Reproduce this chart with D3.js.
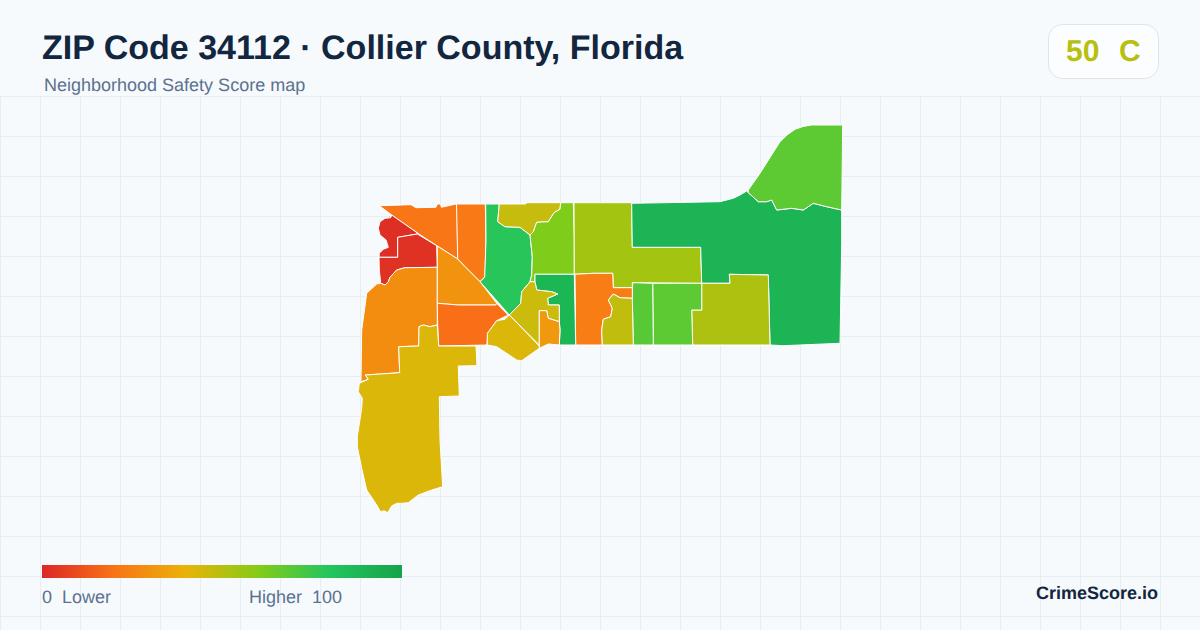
<!DOCTYPE html>
<html>
<head>
<meta charset="utf-8">
<style>
  html, body { margin: 0; padding: 0; background: #f7fafc; }
  text { font-family: "Liberation Sans", Arial, sans-serif; text-rendering: geometricPrecision; }
</style>
<script src="https://cdn.jsdelivr.net/npm/d3@7"></script>
</head>
<body>
<div id="chart"></div>
<script>
var titleText = "ZIP Code 34112 · Collier County, Florida";
var subtitleText = "Neighborhood Safety Score map";
var badgeScore = "50";
var badgeGrade = "C";
var badgeValue = 50;
var legendLabels = ["0  Lower", "Higher  100"];
var brandText = "CrimeScore.io";

// score colour ramp
var rampScores = [0, 20, 40, 60, 80, 100];
var rampColors = ["#dc2626", "#f97316", "#eab308", "#84cc16", "#22c55e", "#16a34a"];

// one score per neighborhood, same order as regionRings
var regionScores = [
    21, 22, 95, 2, 3, 28, 30, 19, 43, 79, 47, 61, 54,
    90, 68, 52, 68, 69, 23, 48, 89, 46, 32, 43
];

// neighborhood outlines in map units (no real coordinates available)
var regionRings = [
    [[29.3,85.7],[61,84.7],[66,87.7],[86,87.3],[87.3,84],[90.7,84],[91.3,87.3],[106,84],[107,84],[107.7,139],[86.7,125.7],[67,112.7],[41.7,95]],
    [[106.5,84],[135.3,84],[136,120],[135,156.7],[130,161.7],[115,146.7],[107.7,139]],
    [[35,98.3],[40,95.7],[40.7,97.7]],
    [[30,101.7],[28.3,108.3],[30,115],[36,120],[38.3,127.3],[33.3,129.3],[29.3,133.3],[29,137.3],[47.7,137.3],[47.7,117.3],[67.3,114],[67,112.7],[41.7,95],[40.7,97.7],[35,98.3]],
    [[29,137.3],[47.7,137.3],[47.7,117.3],[67.3,114],[86.7,125.7],[87.3,147.3],[55,147.7],[46.7,150],[40,157.3],[38.3,161.7],[35,165],[30.7,163.3],[29.3,150]],
    [[35,165],[38.3,161.7],[40,157.3],[46.7,150],[55,147.7],[87.3,147.3],[87.3,205],[80,206.7],[73.3,205],[69,206.7],[68.7,226],[48.7,226.7],[49.7,252.7],[15.3,255],[18.3,259.3],[10.7,261.7],[11,260],[11.7,210],[16.7,173.3],[26.7,164],[30.7,163.3]],
    [[87.3,126],[107.7,139],[115,146.7],[130,161.7],[146.7,183.3],[145.7,185],[108.3,185],[87.3,183.3]],
    [[87.3,183.3],[108.3,185],[145.7,185],[146.7,183.3],[158.3,195],[146.7,200.7],[137.7,213.3],[137,225],[88.7,226],[87.7,205]],
    [[48.7,226.7],[68.7,226],[69,206.7],[73.3,205],[80,206.7],[87.3,205],[88.7,226],[126,226],[127,245.7],[108.3,246],[109.3,276],[89.3,276.7],[90,320],[92.7,366.7],[81.7,370],[68.3,375],[58.3,382.7],[51.7,383.3],[46.7,383.3],[41.7,386],[37.7,392.7],[34,390.7],[30.7,392],[26.7,385],[16.7,370],[11.7,348.3],[7.3,326.7],[7.3,316.7],[11.7,288.3],[12.3,278.3],[8.3,271.7],[9.3,263.3],[18.3,259.3],[15.3,255],[49.7,252.7]],
    [[135.7,84],[149.3,84],[147.7,101.7],[155,106.7],[170,107.3],[180,115],[182.3,136.7],[181.7,155],[180,161.7],[171.7,171.7],[170.7,183.3],[159.3,195],[130,161.7],[134.7,157.3],[136,120]],
    [[149.3,84],[175.7,84],[176.7,82.7],[210.7,82.7],[210,89.3],[204,92.7],[198.3,101.7],[186.7,102.3],[183.3,111.7],[180,115],[170,107.3],[155,106.7],[147.7,101.7]],
    [[210.7,82.7],[223.3,82.7],[224.3,120],[224.3,154.3],[185,154.3],[185,161.7],[180,161.7],[181.7,155],[182.3,136.7],[180,115],[183.3,111.7],[186.7,102.3],[198.3,101.7],[204,92.7],[210,89.3]],
    [[224,82.7],[281.7,82.7],[282.3,127.3],[350.7,127.3],[351.7,163.3],[282.3,162.7],[282.3,167.7],[263.3,167.7],[262.7,153.3],[243.3,153.3],[224.3,154.3]],
    [[281.7,83.3],[370,81.7],[383.3,78.3],[390,75],[396.7,71],[398.3,72.7],[408.3,81.7],[416.7,81.7],[421.7,80],[426.7,90],[441.7,88.3],[453.3,90],[463.3,83.3],[476.7,86.7],[491.7,90],[491.7,123.3],[490,223.3],[433.3,225.7],[420,225],[418.3,155],[379.3,154.3],[380,163.3],[351.7,163.3],[350.7,127.3],[282.3,127.3]],
    [[398.3,70],[410,53.3],[430,21.7],[437,15],[445,9.3],[453,6.5],[461.7,5],[492.7,5],[491.7,90],[476.7,86.7],[463.3,83.3],[453.3,90],[441.7,88.3],[426.7,90],[421.7,80],[416.7,81.7],[408.3,81.7],[398.3,72.7]],
    [[380,163.3],[379.3,154.3],[418.3,155],[420,225],[342.7,225],[341.7,190],[351.7,190],[351.7,163.3]],
    [[302.7,163.3],[351.7,163.3],[351.7,190],[341.7,190],[342.7,225],[303.3,225]],
    [[282.7,162.7],[302.7,163.3],[303.3,225],[283.3,225],[282.3,176.7]],
    [[225,154.3],[243.3,153.3],[262.7,153.3],[263.3,167.7],[282.3,167.7],[282.3,178.3],[270,177.7],[263.3,174],[258.3,180],[262.3,188.3],[260.7,196.7],[253.3,199.3],[251.7,210],[252.3,225],[225.7,225]],
    [[263.3,174],[270,177.7],[282.3,178.3],[283.3,225],[252.3,225],[251.7,210],[253.3,199.3],[260.7,196.7],[262.3,188.3],[258.3,180]],
    [[185,154.3],[224.3,154.3],[225.7,225],[209.3,225],[210,210],[209.3,201.7],[209.3,185],[198.3,185],[197.7,178.3],[207.7,174],[201.7,171.7],[186.7,170],[185,161.7]],
    [[180,161.7],[185,161.7],[186.7,170],[201.7,171.7],[207.7,174],[197.7,178.3],[198.3,185],[209.3,185],[209.3,201.7],[198.3,198.3],[196.7,190.7],[189.3,190.7],[189.3,225],[159.3,195],[170.7,183.3],[171.7,171.7]],
    [[189.3,190.7],[196.7,190.7],[198.3,198.3],[209.3,201.7],[210,210],[209.3,225],[198.3,224],[189.3,228.3]],
    [[159.3,195],[189.3,226],[189.3,228.3],[171.7,240.7],[166.7,240],[146.7,226.7],[137.3,225],[137.3,213.3],[146.7,200.7],[155,199.3]]
];

var max = { x: 1200, y: 630 };
var gridStep = 40;
var gridTop = 96;

var svg = d3.select("#chart").append("svg")
    .attr("width", max.x)
    .attr("height", max.y)
    .style("display", "block");

svg.append("rect")
    .attr("width", max.x)
    .attr("height", max.y)
    .attr("fill", "#f7fafc");

// background grid
var grid = svg.append("g").attr("stroke", "#e6eef2").attr("stroke-width", 1);
grid.selectAll("line.v").data(d3.range(0, max.x, gridStep)).enter()
    .append("line")
    .attr("class", "v")
    .attr("x1", function(d) { return d + 0.5; })
    .attr("x2", function(d) { return d + 0.5; })
    .attr("y1", gridTop)
    .attr("y2", max.y);
grid.selectAll("line.h").data(d3.range(gridTop, max.y, gridStep)).enter()
    .append("line")
    .attr("class", "h")
    .attr("x1", 0)
    .attr("x2", max.x)
    .attr("y1", function(d) { return d + 0.5; })
    .attr("y2", function(d) { return d + 0.5; });

var colorScale = d3.scaleLinear().domain(rampScores).range(rampColors);

var xScale = d3.scaleLinear().domain([0, 500]).range([350, 850]);
var yScale = d3.scaleLinear().domain([0, 400]).range([120, 520]);

var ringPath = d3.line()
    .x(function(d) { return xScale(d[0]); })
    .y(function(d) { return yScale(d[1]); })
    .curve(d3.curveLinearClosed);

svg.append("g").selectAll("path").data(regionRings).enter()
    .append("path")
    .attr("d", ringPath)
    .attr("fill", function(d, i) { return colorScale(regionScores[i]); })
    .attr("stroke", "#ffffff")
    .attr("stroke-width", 1)
    .attr("stroke-linejoin", "round");

// header
svg.append("text")
    .attr("x", 42)
    .attr("y", 59)
    .attr("font-size", 34)
    .attr("font-weight", 700)
    .attr("fill", "#12263f")
    .text(titleText);

svg.append("text")
    .attr("x", 44)
    .attr("y", 91)
    .attr("font-size", 18)
    .attr("fill", "#5b7290")
    .text(subtitleText);

// score badge
svg.append("rect")
    .attr("x", 1048.5)
    .attr("y", 24.5)
    .attr("width", 110)
    .attr("height", 54)
    .attr("rx", 14)
    .attr("fill", "#fcfdfe")
    .attr("stroke", "#dfe5ee");

svg.append("text")
    .attr("x", 1066)
    .attr("y", 61)
    .attr("font-size", 30)
    .attr("font-weight", 700)
    .attr("fill", colorScale(badgeValue))
    .text(badgeScore);

svg.append("text")
    .attr("x", 1119)
    .attr("y", 61)
    .attr("font-size", 30)
    .attr("font-weight", 700)
    .attr("fill", colorScale(badgeValue))
    .text(badgeGrade);

// legend bar
var legendScale = d3.scaleLinear().domain([0, 100]).range([42, 402]);

var gradient = svg.append("defs").append("linearGradient")
    .attr("id", "ramp");
gradient.selectAll("stop").data(rampScores).enter()
    .append("stop")
    .attr("offset", function(d) { return d + "%"; })
    .attr("stop-color", function(d) { return colorScale(d); });

svg.append("rect")
    .attr("x", legendScale(0))
    .attr("y", 565)
    .attr("width", legendScale(100) - legendScale(0))
    .attr("height", 13)
    .attr("fill", "url(#ramp)");

svg.selectAll("text.legend").data(legendLabels).enter()
    .append("text")
    .attr("class", "legend")
    .attr("x", function(d, i) { return i === 0 ? 42 : 249; })
    .attr("y", 603)
    .attr("font-size", 18)
    .attr("fill", "#5b7290")
    .attr("xml:space", "preserve")
    .style("white-space", "pre")
    .text(function(d) { return d; });

svg.append("text")
    .attr("x", 1158)
    .attr("y", 599)
    .attr("text-anchor", "end")
    .attr("font-size", 18)
    .attr("font-weight", 700)
    .attr("fill", "#12263f")
    .text(brandText);
</script>
</body>
</html>
